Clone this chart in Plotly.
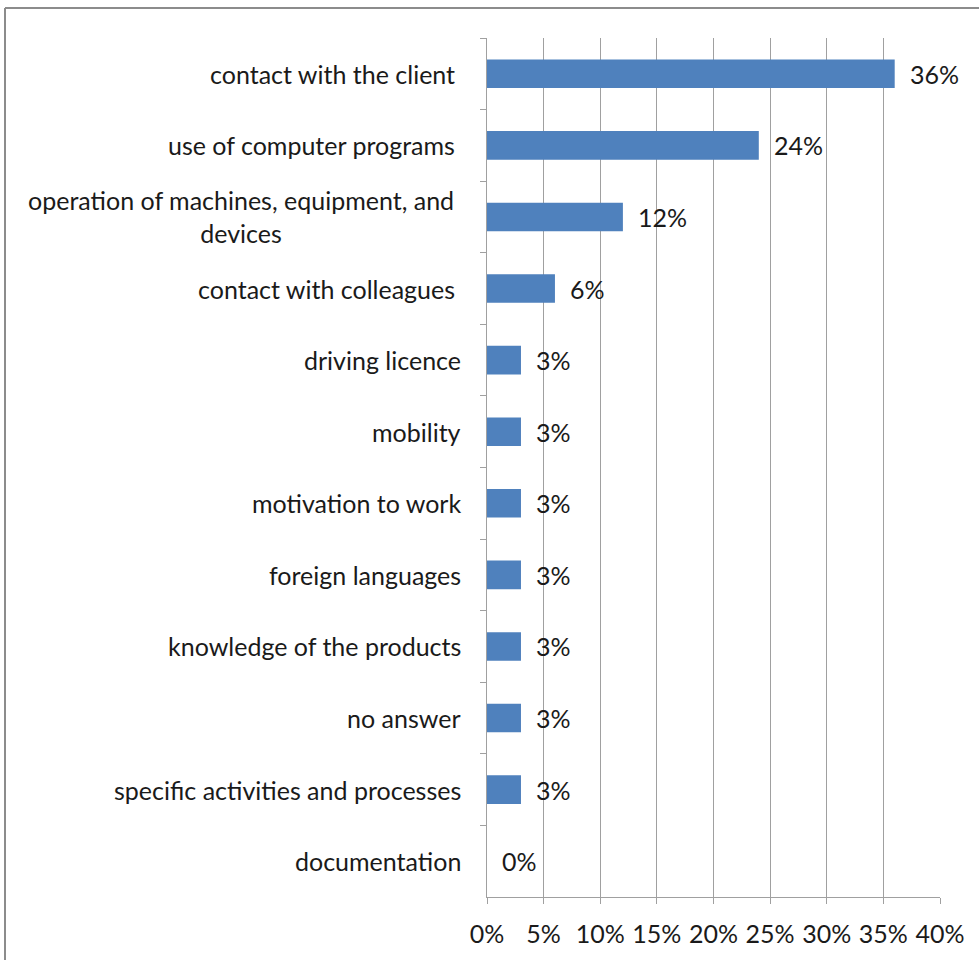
import plotly.graph_objects as go

categories = [
    "contact with the client\u00a0",
    "use of computer programs\u00a0",
    "operation of machines, equipment, and\u00a0<br>devices\u00a0",
    "contact with colleagues\u00a0",
    "driving licence",
    "mobility",
    "motivation to work",
    "foreign languages",
    "knowledge of the products",
    "no answer",
    "specific activities and processes",
    "documentation",
]
values = [0.36, 0.24, 0.12, 0.06, 0.03, 0.03, 0.03, 0.03, 0.03, 0.03, 0.03, 0.0]
x_ticks = [0, 0.05, 0.10, 0.15, 0.20, 0.25, 0.30, 0.35, 0.40]
x_tick_labels = ["0%", "5%", "10%", "15%", "20%", "25%", "30%", "35%", "40%"]

FONT = "Lato"
FS = 25
TXT = "#1a1a1a"
GRID = "#a0a0a0"

W, H = 979, 960
L, R, T, B = 487, 39, 38, 63
pw, ph = W - L - R, H - T - B

fig = go.Figure()
fig.add_trace(go.Bar(
    y=categories, x=values, orientation="h",
    marker=dict(color="#4F81BD", line=dict(width=0)),
    width=0.4, hoverinfo="skip",
))

annotations = []
for c, v in zip(categories, values):
    annotations.append(dict(
        x=v, y=c, xref="x", yref="y", text=f"{round(v*100)}%",
        showarrow=False, xanchor="left", xshift=13,
        font=dict(family=FONT, size=FS, color=TXT),
    ))
    annotations.append(dict(
        x=0, y=c, xref="paper", yref="y", text=c,
        showarrow=False, xanchor="right", xshift=-24, align="center",
        font=dict(family=FONT, size=FS, color=TXT),
    ))

shapes = [
    dict(type="line", xref="paper", yref="paper",
         x0=(5 - L) / pw, x1=(W + 10 - L) / pw,
         y0=(H - B - 8) / ph, y1=(H - B - 8) / ph,
         line=dict(color="#8c8c8c", width=2)),
    dict(type="line", xref="paper", yref="paper",
         x0=(5 - L) / pw, x1=(5 - L) / pw,
         y0=(H - B - 8) / ph, y1=-(B + 20) / ph,
         line=dict(color="#8c8c8c", width=2)),
]

fig.update_layout(
    width=W, height=H,
    margin=dict(l=L, r=R, t=T, b=B, pad=0),
    paper_bgcolor="white", plot_bgcolor="white",
    showlegend=False,
    annotations=annotations,
    shapes=shapes,
    font=dict(family=FONT, size=FS, color=TXT),
    xaxis=dict(
        range=[0, 0.40], tickvals=x_ticks, ticktext=x_tick_labels,
        showgrid=True, gridcolor=GRID, gridwidth=1,
        showline=True, linecolor=GRID, linewidth=1,
        ticks="outside", ticklen=6, tickcolor=GRID,
        zeroline=False, ticklabelstandoff=9,
        tickfont=dict(family=FONT, size=FS, color=TXT),
        fixedrange=True,
    ),
    yaxis=dict(
        categoryorder="array", categoryarray=categories,
        autorange="reversed",
        showticklabels=False,
        showgrid=False, zeroline=False,
        showline=True, linecolor=GRID, linewidth=1,
        ticks="outside", ticklen=6, tickcolor=GRID,
        tickson="boundaries",
        fixedrange=True,
    ),
)

fig.write_html("out.html")
